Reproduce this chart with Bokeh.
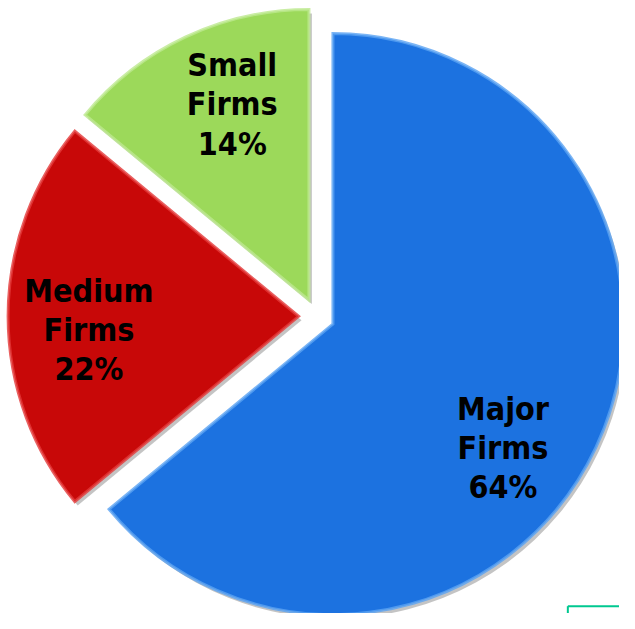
import numpy as np
from bokeh.plotting import figure
from bokeh.models import Range1d, ColumnDataSource
from bokeh.core.properties import value
from bokeh.embed import file_html
from bokeh.resources import INLINE

# ---- data ----
categories = ["Major\nFirms", "Medium\nFirms", "Small\nFirms"]
shares = [64, 22, 14]
fill_colors = ["#1C72E0", "#C80808", "#9CD95A"]
edge_colors = ["#5AA2F2", "#E43A3A", "#BDE88E"]

# ---- layout (data space = 635 x 629 canvas, y up) ----
W, H = 619, 613
CW, CH = 635, 629
cx, cy = 324.3, CH - 324.1          # pie centre
R = 298                              # radius
explode = 18.5                       # explode distance
label_r = 234
label_nudge = [10.0, -3.4, 3.5]      # degrees (clockwise) per slice

frac = np.array(shares, dtype=float) / sum(shares)
cw_end = np.cumsum(frac) * 360.0
cw_start = cw_end - frac * 360.0
cw_mid = (cw_start + cw_end) / 2.0

start = np.radians(90.0 - cw_start)
end = np.radians(90.0 - cw_end)
mid = np.radians(90.0 - cw_mid)

xs = cx + explode * np.cos(mid)
ys = cy + explode * np.sin(mid)

lab_ang = np.radians(90.0 - (cw_mid + np.array(label_nudge)))
lx = cx + label_r * np.cos(lab_ang)
ly = cy + label_r * np.sin(lab_ang)
labels = [f"{c}\n{s}%" for c, s in zip(categories, shares)]

src = ColumnDataSource(dict(x=xs, y=ys, sx=xs + 3, sy=ys - 4, start=start, end=end,
                            fill=fill_colors, edge=edge_colors,
                            lx=lx, ly=ly, label=labels))

p = figure(width=W, height=H, output_backend="svg", toolbar_location=None,
           x_range=Range1d(0, CW), y_range=Range1d(0, CH),
           min_border=0, outline_line_color=None)
p.axis.visible = False
p.grid.visible = False
p.background_fill_color = "white"
p.border_fill_color = "white"

# drop shadow
p.wedge(x="sx", y="sy", radius=R, start_angle="start", end_angle="end",
        direction="clock", source=src, fill_color="#555555", fill_alpha=0.35,
        line_color=None)
# slices
p.wedge(x="x", y="y", radius=R, start_angle="start", end_angle="end",
        direction="clock", source=src, fill_color="fill", line_color="edge",
        line_width=3, line_alpha=0.8, line_join="miter")

p.text(x="lx", y="ly", text="label", source=src, text_align="center",
       text_baseline="middle", text_font=value("DejaVu Sans Condensed"),
       text_font_style="bold", text_font_size="32px", text_color="black",
       text_line_height=1.03)

# teal frame fragment in the lower-right corner
p.line(x=[582, 640], y=[CH - 621.5, CH - 621.5], line_color="#00C890", line_width=2)
p.line(x=[582, 582], y=[CH - 621.5, -5], line_color="#00C890", line_width=2)

open("out.html", "w").write(file_html(p, INLINE))
